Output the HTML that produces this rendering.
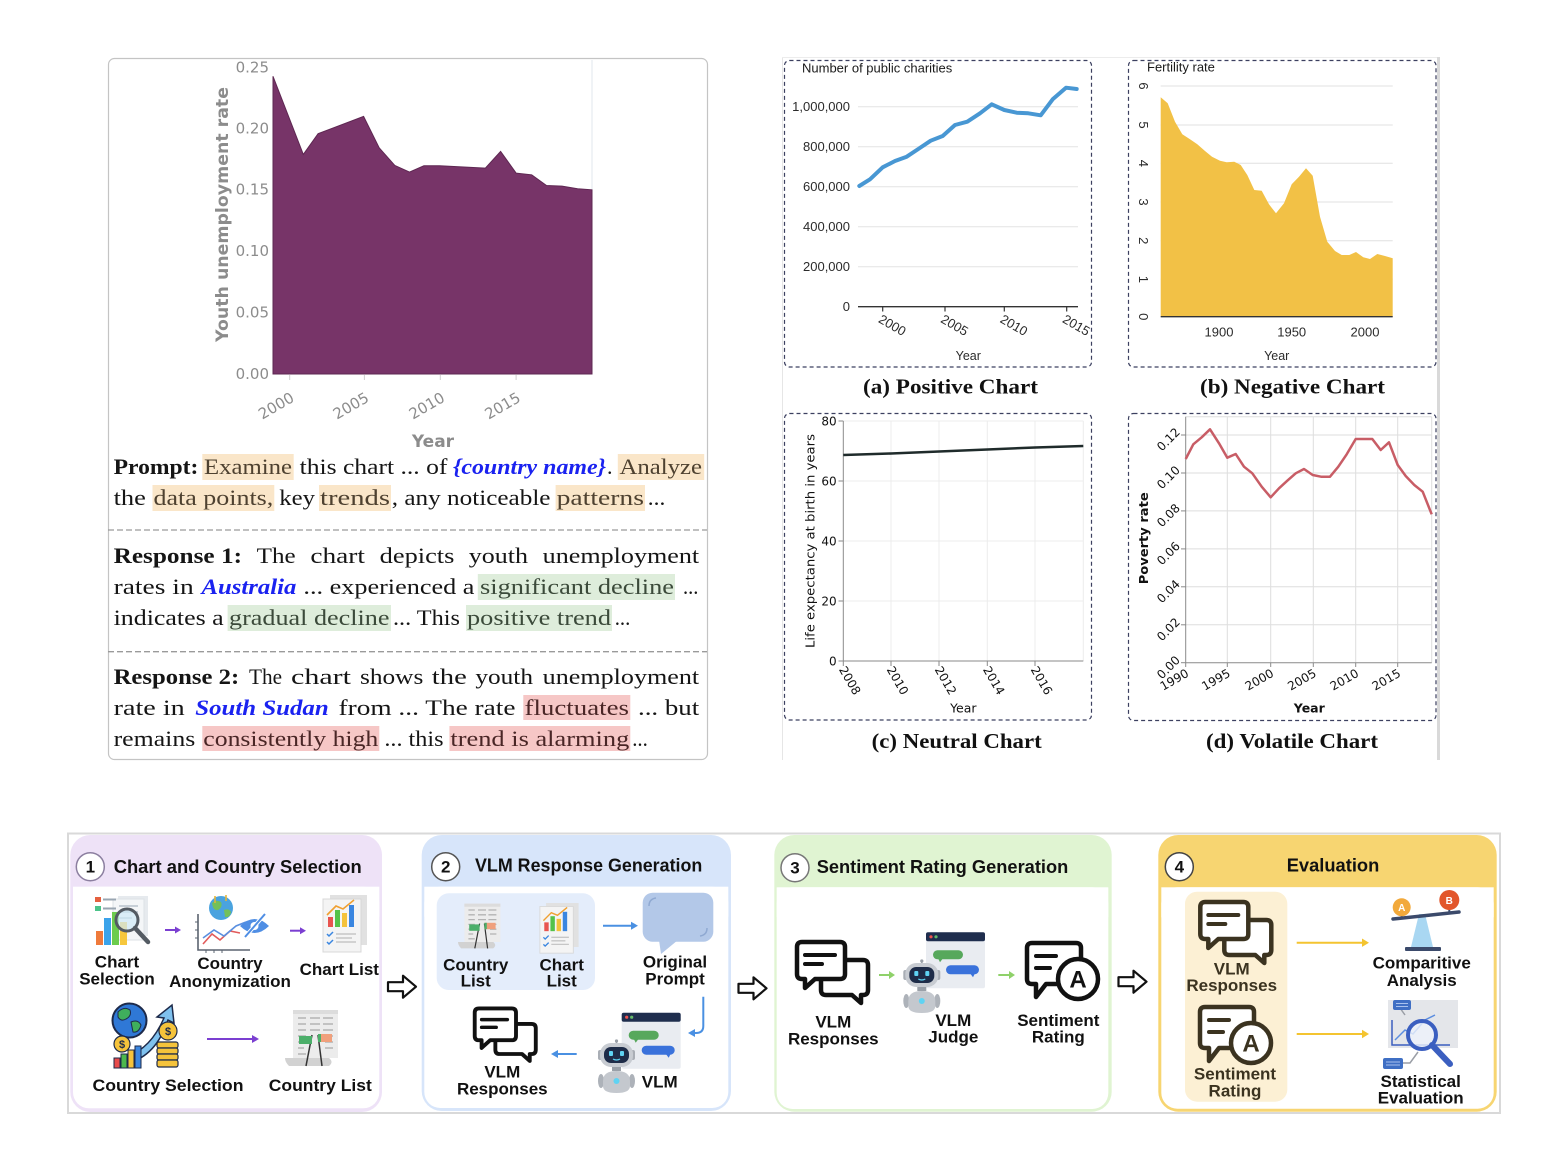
<!DOCTYPE html>
<html><head><meta charset="utf-8"><title>figure</title>
<style>html,body{margin:0;padding:0;background:#fff}svg{display:block}</style></head>
<body>
<svg xmlns="http://www.w3.org/2000/svg" width="1568" height="1176" viewBox="0 0 1568 1176">
<defs>
 <g id="bub">
  <path d="M31,20 H68 Q73,20 73,25 V50 Q73,55 68,55 H66 V63 L57,55 H31 Q26,55 26,50 V25 Q26,20 31,20 Z" fill="#fff" stroke="currentColor" stroke-width="4.5" stroke-linejoin="round"/>
  <path d="M7,2 H45 Q50,2 50,7 V34 Q50,39 45,39 H20 L10,48 V39 H7 Q2,39 2,34 V7 Q2,2 7,2 Z" fill="#fff" stroke="currentColor" stroke-width="4.5" stroke-linejoin="round"/>
  <path d="M10,15 H40 M10,24 H27" stroke="currentColor" stroke-width="4" stroke-linecap="round"/>
 </g>
 <g id="rat">
  <path d="M7,2 H51 Q56,2 56,7 V38 Q56,43 51,43 H21 L11,56 V43 H7 Q2,43 2,38 V7 Q2,2 7,2 Z" fill="#fff" stroke="currentColor" stroke-width="4.5" stroke-linejoin="round"/>
  <path d="M11,15 H31 M11,27 H25" stroke="currentColor" stroke-width="4" stroke-linecap="round"/>
  <circle cx="53" cy="38" r="20" fill="#fff" stroke="currentColor" stroke-width="4.5"/>
 </g>
 <g id="robot">
  <line x1="18.5" y1="0" x2="18.5" y2="4" stroke="#9aa0a8" stroke-width="1.5"/>
  <circle cx="18.5" cy="1" r="1.6" fill="#9aa0a8"/>
  <rect x="0" y="10" width="4" height="10" rx="2" fill="#a9aeb5"/>
  <rect x="33" y="10" width="4" height="10" rx="2" fill="#a9aeb5"/>
  <rect x="2" y="3" width="33" height="24" rx="11" fill="#c8ccd2"/>
  <rect x="6" y="7" width="25" height="16" rx="7" fill="#1e2c48"/>
  <rect x="11" y="11" width="4" height="5" rx="1" fill="#5fd3f3"/>
  <rect x="22" y="11" width="4" height="5" rx="1" fill="#5fd3f3"/>
  <path d="M15,19 q3.5,2 7,0" stroke="#5fd3f3" stroke-width="1.2" fill="none"/>
  <rect x="14" y="27" width="9" height="4" fill="#9aa0a8"/>
  <ellipse cx="3" cy="41" rx="3" ry="7" fill="#adb2b9"/>
  <ellipse cx="34" cy="41" rx="3" ry="7" fill="#adb2b9"/>
  <path d="M5,41 q0,-10 13.5,-10 q13.5,0 13.5,10 v5 q0,7 -13.5,7 q-13.5,0 -13.5,-7z" fill="#c4c8ce"/>
  <circle cx="18.5" cy="41" r="3" fill="#5fd3f3"/>
 </g>
 <g id="win">
  <rect x="0" y="0" width="59" height="56" rx="2" fill="#e9ecf1"/>
  <rect x="0" y="0" width="59" height="9" rx="2" fill="#1f2e4e"/>
  <circle cx="5" cy="4.5" r="1.6" fill="#ef5350"/>
  <circle cx="10" cy="4.5" r="1.6" fill="#66bb6a"/>
  <rect x="7" y="18" width="30" height="9" rx="4.5" fill="#57a85c"/>
  <path d="M12,26 l2,4 l3,-4z" fill="#57a85c"/>
  <rect x="20" y="33" width="33" height="9" rx="4.5" fill="#3a72db"/>
  <path d="M44,41 l3,4 l2,-4z" fill="#3a72db"/>
 </g>
 <g id="clist">
  <rect x="8" y="2" width="45" height="48" fill="#ececec"/>
  <rect x="8" y="2" width="45" height="4" fill="#dcdcdc"/>
  <path d="M13,10 H21 M25,10 H35 M38,10 H48 M13,16 H21 M25,16 H35 M38,16 H48 M13,22 H21 M25,22 H35 M38,22 H48 M13,28 H21 M38,28 H48 M13,34 H19 M40,34 H48 M13,40 H19 M40,40 H48 M13,46 H21" stroke="#b3b3b3" stroke-width="1.6"/>
  <path d="M0,50 H44 q5,4 0,8 H4 q-4,-4 -4,-8z" fill="#d2d2d2"/>
  <line x1="27" y1="27" x2="21" y2="58" stroke="#333" stroke-width="1.5"/>
  <line x1="33" y1="27" x2="37" y2="58" stroke="#333" stroke-width="1.5"/>
  <rect x="14" y="28" width="13" height="8" fill="#4caf6a"/>
  <rect x="33" y="26" width="14" height="8" fill="#f0a07c"/>
  <rect x="33" y="26" width="3" height="8" fill="#4caf6a"/>
 </g>
 <g id="chlist">
  <rect x="8" y="0" width="37" height="50" fill="#e1e1e1"/>
  <rect x="1" y="4" width="38" height="53" fill="#f4f4f4" stroke="#d8d8d8"/>
  <rect x="6" y="22" width="5" height="10" fill="#e8544f"/>
  <rect x="13" y="15" width="5" height="17" fill="#55c24a"/>
  <rect x="20" y="18" width="5" height="14" fill="#f4c23b"/>
  <rect x="27" y="10" width="5" height="22" fill="#3a86e0"/>
  <polyline points="5,20 14,11 21,14 32,5" fill="none" stroke="#f0a030" stroke-width="1.6"/>
  <path d="M5,39 l2,2 l4,-4 M5,47 l2,2 l4,-4" stroke="#3a86e0" stroke-width="1.5" fill="none"/>
  <path d="M14,39 H34 M14,47 H34 M14,43 H30" stroke="#c6c6c6" stroke-width="1.5"/>
 </g>
</defs>

<rect width="1568" height="1176" fill="#fff"/>

<!-- ============ TOP LEFT PANEL ============ -->
<rect x="108.5" y="58.5" width="599" height="701" rx="6" fill="none" stroke="#c4c4c4" stroke-width="1.2"/>
<line x1="592" y1="60" x2="592" y2="374" stroke="#e2e7ee" stroke-width="1"/>
<path d="M273,374 L273,76.3 L303.3,154.4 L318.1,133.7 L363.6,116.4 L379.2,147.8 L394.8,165.4 L409.5,172.1 L423.9,165.8 L439.5,165.8 L485.4,168.1 L500.6,151.4 L516.1,173.1 L531.7,174.8 L546.5,185.5 L562,186.1 L577.6,188.8 L592,189.8 L592,374 Z" fill="#773468" stroke="#5e2752" stroke-width="1"/>
<g stroke="#cfcfcf" stroke-width="1"><line x1="289.7" y1="375" x2="289.7" y2="380"/><line x1="364.4" y1="375" x2="364.4" y2="380"/><line x1="440.3" y1="375" x2="440.3" y2="380"/><line x1="516.1" y1="375" x2="516.1" y2="380"/></g>
<g font-family="DejaVu Sans, sans-serif" font-size="15" fill="#8c8c8c" text-anchor="end">
 <text x="269" y="72.5">0.25</text>
 <text x="269" y="133.5">0.20</text>
 <text x="269" y="194.5">0.15</text>
 <text x="269" y="256">0.10</text>
 <text x="269" y="317.5">0.05</text>
 <text x="269" y="379">0.00</text>
 <g dominant-baseline="hanging">
  <text transform="translate(289.7,391) rotate(-30)">2000</text>
  <text transform="translate(364.4,391) rotate(-30)">2005</text>
  <text transform="translate(440.3,391) rotate(-30)">2010</text>
  <text transform="translate(516.1,391) rotate(-30)">2015</text>
 </g>
</g>
<text transform="translate(228,214.5) rotate(-90)" font-family="DejaVu Sans, sans-serif" font-weight="bold" font-size="17" fill="#8c8c8c" text-anchor="middle" textLength="255" lengthAdjust="spacingAndGlyphs">Youth unemployment rate</text>
<text x="433" y="447" font-family="DejaVu Sans, sans-serif" font-weight="bold" font-size="17" fill="#8c8c8c" text-anchor="middle">Year</text>

<!-- text block highlights -->
<g>
 <rect x="202.3" y="454" width="91.4" height="26" fill="#fae6c9"/>
 <rect x="617.8" y="454" width="86.4" height="26" fill="#fae6c9"/>
 <rect x="152.5" y="485" width="121.8" height="26" fill="#fae6c9"/>
 <rect x="319" y="485" width="72" height="26" fill="#fae6c9"/>
 <rect x="555.6" y="485" width="89.4" height="26" fill="#fae6c9"/>
 <rect x="477.8" y="574" width="197.2" height="26" fill="#deeddb"/>
 <rect x="227.6" y="605" width="163.4" height="26" fill="#deeddb"/>
 <rect x="466" y="605" width="146" height="26" fill="#deeddb"/>
 <rect x="523.3" y="695" width="107" height="25" fill="#f6c7c6"/>
 <rect x="202.3" y="726" width="177" height="25" fill="#f6c7c6"/>
 <rect x="449.4" y="726" width="180.9" height="25" fill="#f6c7c6"/>
</g>
<line x1="108" y1="530" x2="707" y2="530" stroke="#9a9a9a" stroke-width="1.3" stroke-dasharray="6 3"/>
<line x1="108" y1="651.7" x2="707" y2="651.7" stroke="#9a9a9a" stroke-width="1.3" stroke-dasharray="6 3"/>
<g font-family="Liberation Serif, serif" font-size="22" fill="#151515">
 <text x="113.6" y="474" font-weight="bold" textLength="84.8" lengthAdjust="spacingAndGlyphs">Prompt:</text>
 <text x="204" y="474" fill="#4e4130" textLength="88" lengthAdjust="spacingAndGlyphs">Examine</text>
 <text x="299.6" y="474" textLength="147.8" lengthAdjust="spacingAndGlyphs">this chart ... of</text>
 <text x="453" y="474" fill="#1a22f0" font-weight="bold" font-style="italic" textLength="153" lengthAdjust="spacingAndGlyphs">{country name}</text>
 <text x="607" y="474">.</text>
 <text x="619.5" y="474" fill="#4e4130" textLength="82.5" lengthAdjust="spacingAndGlyphs">Analyze</text>

 <text x="113.6" y="505" textLength="32.3" lengthAdjust="spacingAndGlyphs">the</text>
 <text x="153.5" y="505" fill="#4e4130" textLength="119.8" lengthAdjust="spacingAndGlyphs">data points,</text>
 <text x="279.3" y="505" textLength="35.7" lengthAdjust="spacingAndGlyphs">key</text>
 <text x="320" y="505" fill="#4e4130" textLength="70" lengthAdjust="spacingAndGlyphs">trends</text>
 <text x="391.8" y="505" textLength="158.7" lengthAdjust="spacingAndGlyphs">, any noticeable</text>
 <text x="556.6" y="505" fill="#4e4130" textLength="87.4" lengthAdjust="spacingAndGlyphs">patterns</text>
 <text x="647.8" y="505" textLength="17.5" lengthAdjust="spacingAndGlyphs">...</text>

 <text x="113.6" y="563" font-weight="bold" textLength="128.4" lengthAdjust="spacingAndGlyphs">Response 1:</text>
 <text x="256.7" y="563" textLength="39" lengthAdjust="spacingAndGlyphs">The</text>
 <text x="310.4" y="563" textLength="54.6" lengthAdjust="spacingAndGlyphs">chart</text>
 <text x="379.7" y="563" textLength="74.7" lengthAdjust="spacingAndGlyphs">depicts</text>
 <text x="468.8" y="563" textLength="59.2" lengthAdjust="spacingAndGlyphs">youth</text>
 <text x="542.7" y="563" textLength="156.5" lengthAdjust="spacingAndGlyphs">unemployment</text>

 <text x="113.6" y="594" textLength="80.1" lengthAdjust="spacingAndGlyphs">rates in</text>
 <text x="201.5" y="594" fill="#1a22f0" font-weight="bold" font-style="italic" textLength="94.9" lengthAdjust="spacingAndGlyphs">Australia</text>
 <text x="303.4" y="594" textLength="171" lengthAdjust="spacingAndGlyphs">... experienced a</text>
 <text x="480" y="594" fill="#3b4a3a" textLength="194" lengthAdjust="spacingAndGlyphs">significant decline</text>
 <text x="683" y="594" textLength="15.4" lengthAdjust="spacingAndGlyphs">...</text>

 <text x="113.6" y="625" textLength="110.1" lengthAdjust="spacingAndGlyphs">indicates a</text>
 <text x="229" y="625" fill="#3b4a3a" textLength="160.5" lengthAdjust="spacingAndGlyphs">gradual decline</text>
 <text x="393" y="625" textLength="66.9" lengthAdjust="spacingAndGlyphs">... This</text>
 <text x="467" y="625" fill="#3b4a3a" textLength="144" lengthAdjust="spacingAndGlyphs">positive trend</text>
 <text x="614.7" y="625" textLength="15.6" lengthAdjust="spacingAndGlyphs">...</text>

 <text x="113.6" y="684" font-weight="bold" textLength="125.6" lengthAdjust="spacingAndGlyphs">Response 2:</text>
 <text x="249" y="684" textLength="33" lengthAdjust="spacingAndGlyphs">The</text>
 <text x="291" y="684" textLength="60" lengthAdjust="spacingAndGlyphs">chart</text>
 <text x="360" y="684" textLength="63.3" lengthAdjust="spacingAndGlyphs">shows</text>
 <text x="431.8" y="684" textLength="35" lengthAdjust="spacingAndGlyphs">the</text>
 <text x="475.4" y="684" textLength="57.6" lengthAdjust="spacingAndGlyphs">youth</text>
 <text x="542.7" y="684" textLength="156.5" lengthAdjust="spacingAndGlyphs">unemployment</text>

 <text x="113.6" y="715" textLength="71.2" lengthAdjust="spacingAndGlyphs">rate in</text>
 <text x="195.3" y="715" fill="#1a22f0" font-weight="bold" font-style="italic" textLength="133.4" lengthAdjust="spacingAndGlyphs">South Sudan</text>
 <text x="338.5" y="715" textLength="177" lengthAdjust="spacingAndGlyphs">from ... The rate</text>
 <text x="524.5" y="715" fill="#4a2626" textLength="104.5" lengthAdjust="spacingAndGlyphs">fluctuates</text>
 <text x="638" y="715" textLength="61.2" lengthAdjust="spacingAndGlyphs">... but</text>

 <text x="113.6" y="746" textLength="81.7" lengthAdjust="spacingAndGlyphs">remains</text>
 <text x="203.3" y="746" fill="#4a2626" textLength="175" lengthAdjust="spacingAndGlyphs">consistently high</text>
 <text x="384.4" y="746" textLength="59.1" lengthAdjust="spacingAndGlyphs">... this</text>
 <text x="450.4" y="746" fill="#4a2626" textLength="178.9" lengthAdjust="spacingAndGlyphs">trend is alarming</text>
 <text x="632.2" y="746" textLength="15.6" lengthAdjust="spacingAndGlyphs">...</text>
</g>

<!-- ============ TOP RIGHT PANEL FRAME ============ -->
<line x1="782.5" y1="57" x2="782.5" y2="760" stroke="#e6e6e6" stroke-width="1"/>
<line x1="782" y1="57.5" x2="1438" y2="57.5" stroke="#ececec" stroke-width="1"/>
<line x1="1438.5" y1="57" x2="1438.5" y2="760" stroke="#d9d9d9" stroke-width="3"/>

<!-- Chart (a) -->
<rect x="784.5" y="60.5" width="307" height="306.5" rx="5" fill="none" stroke="#3c4060" stroke-width="1.2" stroke-dasharray="4 3"/>
<g stroke="#e3e3e3" stroke-width="1"><line x1="858" y1="106.7" x2="1078" y2="106.7"/><line x1="858" y1="146.7" x2="1078" y2="146.7"/><line x1="858" y1="186.7" x2="1078" y2="186.7"/><line x1="858" y1="226.7" x2="1078" y2="226.7"/><line x1="858" y1="266.7" x2="1078" y2="266.7"/></g>
<line x1="858" y1="306.7" x2="1078" y2="306.7" stroke="#333" stroke-width="1.3"/>
<g stroke="#333" stroke-width="1.2"><line x1="882.7" y1="306.7" x2="882.7" y2="311.5"/><line x1="945" y1="306.7" x2="945" y2="311.5"/><line x1="1004.3" y1="306.7" x2="1004.3" y2="311.5"/><line x1="1066.7" y1="306.7" x2="1066.7" y2="311.5"/></g>
<polyline points="859.3,186 870,179.3 882.7,167.3 895,161 906.7,156.7 918.3,149 930.7,140.7 942.7,136 955,125 967.3,121.7 980,113.3 991.7,104.3 1004.3,110 1016.7,112.7 1028.3,113.3 1040.7,115.3 1052.7,99.3 1066,87.7 1076.7,89" fill="none" stroke="#4897d3" stroke-width="4" stroke-linejoin="round" stroke-linecap="round"/>
<g font-family="Liberation Sans, sans-serif" font-size="13" fill="#2b2b2b">
 <text x="802" y="72.5" fill="#1a1a1a">Number of public charities</text>
 <g text-anchor="end">
  <text x="850" y="111">1,000,000</text>
  <text x="850" y="151">800,000</text>
  <text x="850" y="191">600,000</text>
  <text x="850" y="231">400,000</text>
  <text x="850" y="271">200,000</text>
  <text x="850" y="311">0</text>
 </g>
 <g dominant-baseline="hanging">
  <text transform="translate(882.4,313.5) rotate(30)">2000</text>
  <text transform="translate(944.7,313.5) rotate(30)">2005</text>
  <text transform="translate(1004,313.5) rotate(30)">2010</text>
  <text transform="translate(1066.4,313.5) rotate(30)">2015</text>
 </g>
 <text x="968.3" y="360" text-anchor="middle" font-size="12.5">Year</text>
</g>
<text x="950.5" y="393.5" font-family="Liberation Serif, serif" font-weight="bold" font-size="21" fill="#111" text-anchor="middle" textLength="175" lengthAdjust="spacingAndGlyphs">(a) Positive Chart</text>

<!-- Chart (b) -->
<rect x="1128.5" y="60.5" width="307.5" height="306.5" rx="5" fill="none" stroke="#3c4060" stroke-width="1.2" stroke-dasharray="4 3"/>
<g stroke="#e0e0e0" stroke-width="1"><line x1="1160.7" y1="86" x2="1392.7" y2="86"/><line x1="1160.7" y1="125" x2="1392.7" y2="125"/><line x1="1160.7" y1="163.3" x2="1392.7" y2="163.3"/><line x1="1160.7" y1="202" x2="1392.7" y2="202"/><line x1="1160.7" y1="240.7" x2="1392.7" y2="240.7"/><line x1="1160.7" y1="279.3" x2="1392.7" y2="279.3"/></g>
<path d="M1160.7,316.7 L1160.7,97.3 L1167.7,103.3 L1175,121.7 L1182.3,134.3 L1190,139.3 L1197.3,144.3 L1205,151 L1212,156.7 L1220,160.7 L1226.7,162.3 L1234.3,161.7 L1240.7,165 L1247.3,175 L1254.3,190 L1261.7,190.7 L1269,204.3 L1276,213.3 L1284,203.3 L1291.7,184.3 L1299,176.7 L1306,168.3 L1312.7,175.7 L1320,216.7 L1327.3,241.7 L1335,251 L1341.7,255 L1349.3,255 L1356,252 L1363.3,257.3 L1370,259 L1377.3,254 L1385,256 L1392.7,258.3 L1392.7,316.7 Z" fill="#f2c146"/>
<line x1="1160.7" y1="316.7" x2="1392.7" y2="316.7" stroke="#333" stroke-width="1.3"/>
<g font-family="Liberation Sans, sans-serif" font-size="13" fill="#2b2b2b">
 <text x="1147" y="71.5" fill="#1a1a1a">Fertility rate</text>
 <g text-anchor="middle" dominant-baseline="central">
  <text transform="translate(1143.7,86) rotate(90)">6</text>
  <text transform="translate(1143.7,125) rotate(90)">5</text>
  <text transform="translate(1143.7,163.3) rotate(90)">4</text>
  <text transform="translate(1143.7,202) rotate(90)">3</text>
  <text transform="translate(1143.7,240.7) rotate(90)">2</text>
  <text transform="translate(1143.7,279.3) rotate(90)">1</text>
  <text transform="translate(1143.7,316.7) rotate(90)">0</text>
 </g>
 <g text-anchor="middle">
  <text x="1219" y="336.5">1900</text>
  <text x="1291.7" y="336.5">1950</text>
  <text x="1365" y="336.5">2000</text>
  <text x="1276.7" y="360" font-size="12.5">Year</text>
 </g>
</g>
<text x="1292.5" y="393.5" font-family="Liberation Serif, serif" font-weight="bold" font-size="21" fill="#111" text-anchor="middle" textLength="185" lengthAdjust="spacingAndGlyphs">(b) Negative Chart</text>

<!-- Chart (c) -->
<rect x="784.5" y="413.5" width="307" height="306.5" rx="5" fill="none" stroke="#3c4060" stroke-width="1.2" stroke-dasharray="4 3"/>
<g stroke="#ececec" stroke-width="1">
 <line x1="843.3" y1="421" x2="1083.3" y2="421"/><line x1="843.3" y1="481" x2="1083.3" y2="481"/><line x1="843.3" y1="541" x2="1083.3" y2="541"/><line x1="843.3" y1="601" x2="1083.3" y2="601"/>
 <line x1="891" y1="421" x2="891" y2="661"/><line x1="939" y1="421" x2="939" y2="661"/><line x1="987.3" y1="421" x2="987.3" y2="661"/><line x1="1035" y1="421" x2="1035" y2="661"/><line x1="1083.3" y1="421" x2="1083.3" y2="661"/>
</g>
<g stroke="#8a8a8a" stroke-width="1">
 <line x1="843.3" y1="421" x2="843.3" y2="661"/><line x1="843.3" y1="661" x2="1083.3" y2="661"/>
 <line x1="838.5" y1="421" x2="843.3" y2="421"/><line x1="838.5" y1="481" x2="843.3" y2="481"/><line x1="838.5" y1="541" x2="843.3" y2="541"/><line x1="838.5" y1="601" x2="843.3" y2="601"/><line x1="838.5" y1="661" x2="843.3" y2="661"/>
 <line x1="843.3" y1="661" x2="843.3" y2="666"/><line x1="891" y1="661" x2="891" y2="666"/><line x1="939" y1="661" x2="939" y2="666"/><line x1="987.3" y1="661" x2="987.3" y2="666"/><line x1="1035" y1="661" x2="1035" y2="666"/>
</g>
<polyline points="843.3,455 891,453.5 939,451.5 987.3,449.5 1035,447.5 1083.3,446" fill="none" stroke="#1f2b2b" stroke-width="2.5"/>
<g font-family="DejaVu Sans, sans-serif" font-size="12" fill="#111">
 <g text-anchor="end">
  <text x="836.7" y="425.5">80</text>
  <text x="836.7" y="485.5">60</text>
  <text x="836.7" y="545.5">40</text>
  <text x="836.7" y="605.5">20</text>
  <text x="836.7" y="665.5">0</text>
 </g>
 <g dominant-baseline="hanging">
  <text transform="translate(846.3,665) rotate(60)">2008</text>
  <text transform="translate(894,665) rotate(60)">2010</text>
  <text transform="translate(942,665) rotate(60)">2012</text>
  <text transform="translate(990.3,665) rotate(60)">2014</text>
  <text transform="translate(1038,665) rotate(60)">2016</text>
 </g>
 <text transform="translate(814.5,541) rotate(-90)" text-anchor="middle" textLength="214" lengthAdjust="spacingAndGlyphs">Life expectancy at birth in years</text>
 <text x="963.3" y="712.5" text-anchor="middle" font-size="12.5">Year</text>
</g>
<text x="956.7" y="748" font-family="Liberation Serif, serif" font-weight="bold" font-size="21" fill="#111" text-anchor="middle" textLength="170" lengthAdjust="spacingAndGlyphs">(c) Neutral Chart</text>

<!-- Chart (d) -->
<rect x="1128.5" y="413.5" width="307.5" height="307" rx="5" fill="none" stroke="#3c4060" stroke-width="1.2" stroke-dasharray="4 3"/>
<g stroke="#dedede" stroke-width="1">
 <line x1="1185.7" y1="416.7" x2="1431.7" y2="416.7"/><line x1="1185.7" y1="435" x2="1431.7" y2="435"/><line x1="1185.7" y1="473" x2="1431.7" y2="473"/><line x1="1185.7" y1="510.9" x2="1431.7" y2="510.9"/><line x1="1185.7" y1="548.9" x2="1431.7" y2="548.9"/><line x1="1185.7" y1="586.8" x2="1431.7" y2="586.8"/><line x1="1185.7" y1="624.8" x2="1431.7" y2="624.8"/>
 <line x1="1227.3" y1="416.7" x2="1227.3" y2="662.7"/><line x1="1270.7" y1="416.7" x2="1270.7" y2="662.7"/><line x1="1313.3" y1="416.7" x2="1313.3" y2="662.7"/><line x1="1355.7" y1="416.7" x2="1355.7" y2="662.7"/><line x1="1397.7" y1="416.7" x2="1397.7" y2="662.7"/><line x1="1431.7" y1="416.7" x2="1431.7" y2="662.7"/>
</g>
<g stroke="#8a8a8a" stroke-width="1">
 <line x1="1185.7" y1="416.7" x2="1185.7" y2="662.7"/><line x1="1185.7" y1="662.7" x2="1431.7" y2="662.7"/>
 <line x1="1181" y1="435" x2="1185.7" y2="435"/><line x1="1181" y1="473" x2="1185.7" y2="473"/><line x1="1181" y1="510.9" x2="1185.7" y2="510.9"/><line x1="1181" y1="548.9" x2="1185.7" y2="548.9"/><line x1="1181" y1="586.8" x2="1185.7" y2="586.8"/><line x1="1181" y1="624.8" x2="1185.7" y2="624.8"/><line x1="1181" y1="662.7" x2="1185.7" y2="662.7"/>
 <line x1="1185.7" y1="662.7" x2="1185.7" y2="667"/><line x1="1227.3" y1="662.7" x2="1227.3" y2="667"/><line x1="1270.7" y1="662.7" x2="1270.7" y2="667"/><line x1="1313.3" y1="662.7" x2="1313.3" y2="667"/><line x1="1355.7" y1="662.7" x2="1355.7" y2="667"/><line x1="1397.7" y1="662.7" x2="1397.7" y2="667"/>
</g>
<polyline points="1185.7,459 1193.3,444.3 1201.7,437.3 1210,429.3 1219,443.3 1227.3,457.7 1235.7,454 1244,466.7 1252.3,473.3 1261.7,486.7 1270.7,497.3 1279,488.3 1287.3,480.7 1295.7,473.3 1304,469 1312.7,475 1321,476.7 1330,476.7 1338.3,466.7 1346.7,454.3 1355.7,439 1364,439 1372.3,439 1380.7,450 1389,442.3 1397.7,465 1405.7,476 1414.3,485 1422.7,491.7 1431.7,514.3" fill="none" stroke="#c85d66" stroke-width="2.5" stroke-linejoin="round"/>
<g font-family="DejaVu Sans, sans-serif" font-size="12" fill="#111">
 <g text-anchor="end" dominant-baseline="central">
  <text transform="translate(1178,430) rotate(-45)">0.12</text>
  <text transform="translate(1178,468) rotate(-45)">0.10</text>
  <text transform="translate(1178,506) rotate(-45)">0.08</text>
  <text transform="translate(1178,544) rotate(-45)">0.06</text>
  <text transform="translate(1178,582) rotate(-45)">0.04</text>
  <text transform="translate(1178,620) rotate(-45)">0.02</text>
  <text transform="translate(1178,658) rotate(-45)">0.00</text>
 </g>
 <g text-anchor="end" dominant-baseline="hanging">
  <text transform="translate(1185.2,668) rotate(-30)">1990</text>
  <text transform="translate(1226.8,668) rotate(-30)">1995</text>
  <text transform="translate(1270.2,668) rotate(-30)">2000</text>
  <text transform="translate(1312.8,668) rotate(-30)">2005</text>
  <text transform="translate(1355.2,668) rotate(-30)">2010</text>
  <text transform="translate(1397.2,668) rotate(-30)">2015</text>
 </g>
 <text transform="translate(1147.8,538.3) rotate(-90)" text-anchor="middle" font-weight="bold" font-size="12.5" textLength="92" lengthAdjust="spacingAndGlyphs">Poverty rate</text>
 <text x="1309.3" y="712.5" text-anchor="middle" font-weight="bold" font-size="12.5">Year</text>
</g>
<text x="1292" y="748" font-family="Liberation Serif, serif" font-weight="bold" font-size="21" fill="#111" text-anchor="middle" textLength="172" lengthAdjust="spacingAndGlyphs">(d) Volatile Chart</text>

<!-- ============ BOTTOM FLOWCHART ============ -->
<rect x="68" y="833.5" width="1432" height="279.5" fill="none" stroke="#d9d9d9" stroke-width="2"/>

<!-- Panel 1 -->
<rect x="70.3" y="835" width="311.7" height="277" rx="20" fill="#eee2f7"/>
<rect x="73" y="886.7" width="306.3" height="221.6" rx="16" fill="#fff"/>
<rect x="73" y="886.7" width="306.3" height="30" fill="#fff"/>
<circle cx="90.3" cy="866.7" r="14" fill="#fff" stroke="#8c7fa0" stroke-width="1.5"/>
<rect x="118" y="896" width="30" height="40" fill="#e6eaee"/>
<rect x="113" y="899" width="31" height="41" fill="#f4f6f8" stroke="#dde2e6"/>
<path d="M119,906 H138 M119,912 H138 M119,918 H132" stroke="#b8c2cc" stroke-width="1.5"/>
<rect x="95" y="897" width="6" height="5" fill="#e5603f"/>
<rect x="95" y="906" width="6" height="5" fill="#4cc38a"/>
<path d="M103,899.5 H116 M103,908.5 H116" stroke="#9aa6b2" stroke-width="2"/>
<rect x="96" y="931" width="7" height="14" fill="#ef7a3b"/>
<rect x="104" y="918" width="7" height="27" fill="#3ba3ea"/>
<rect x="112" y="912" width="7" height="33" fill="#6ccc4d"/>
<rect x="120" y="922" width="7" height="23" fill="#f6c73d"/>
<circle cx="127" cy="920" r="11" fill="#cfe9f6" fill-opacity="0.7" stroke="#545b63" stroke-width="3"/>
<line x1="135" y1="928" x2="148" y2="942" stroke="#545b63" stroke-width="4.5" stroke-linecap="round"/>
<circle cx="221" cy="908" r="12" fill="#4aa3df"/>
<path d="M212,903 q4,-4 9,-1 q2,5 -3,8 q-5,1 -6,-7z" fill="#73c05a"/>
<path d="M224,910 q5,-2 7,2 q-1,6 -6,5z" fill="#73c05a"/>
<path d="M215,896 V903 M226,895 V901" stroke="#e5b53a" stroke-width="1.6"/>
<path d="M198,914 V950 H250" fill="none" stroke="#5b6470" stroke-width="1.6"/>
<path d="M195,922 H198 M195,930 H198 M195,938 H198 M206,950 V953 M214,950 V953 M222,950 V953" stroke="#5b6470" stroke-width="1"/>
<polyline points="203,944 212,934 220,940 230,931 240,933" fill="none" stroke="#e25b5b" stroke-width="1.6"/>
<polyline points="203,938 214,930 224,936 236,926 246,922" fill="none" stroke="#5a8fe0" stroke-width="1.6"/>
<path d="M240,926 q14.5,-14 29,0 q-14.5,14 -29,0z" fill="#4f8ee4"/>
<circle cx="254.5" cy="926" r="4" fill="#fff"/>
<line x1="245" y1="937" x2="265" y2="914" stroke="#fff" stroke-width="4"/>
<line x1="245" y1="937" x2="265" y2="914" stroke="#4f8ee4" stroke-width="2"/>
<use href="#chlist" transform="translate(322,895)"/>
<path d="M125,1057 Q150,1050 164,1018 L157,1017 L172,1005 L174,1023 L168,1020 Q156,1056 128,1063z" fill="#7fc1ee" stroke="#1d2a4a" stroke-width="1.5"/>
<circle cx="129.5" cy="1020.5" r="17" fill="#2f78d6" stroke="#1d2a4a" stroke-width="2"/>
<path d="M118,1012 q6,-6 12,-2 q2,6 -4,9 q-5,3 -8,-2z" fill="#3fae5c" stroke="#1d2a4a" stroke-width="1"/>
<path d="M131,1022 q7,-3 10,3 q-2,8 -8,7z" fill="#3fae5c" stroke="#1d2a4a" stroke-width="1"/>
<rect x="114" y="1058" width="6" height="10" fill="#e84b4b" stroke="#1d2a4a" stroke-width="1"/>
<rect x="121" y="1054" width="6" height="14" fill="#4cb84c" stroke="#1d2a4a" stroke-width="1"/>
<rect x="128" y="1050" width="6" height="18" fill="#f5c33b" stroke="#1d2a4a" stroke-width="1"/>
<rect x="135" y="1046" width="6" height="22" fill="#3a86e0" stroke="#1d2a4a" stroke-width="1"/>
<g fill="#f5c33b" stroke="#1d2a4a" stroke-width="1.2">
 <rect x="157" y="1042" width="21" height="6" rx="2"/><rect x="157" y="1048" width="21" height="6" rx="2"/><rect x="157" y="1054" width="21" height="6" rx="2"/><rect x="157" y="1060" width="21" height="7" rx="2"/>
 <circle cx="122" cy="1044" r="8"/><circle cx="168" cy="1031" r="9"/>
</g>
<g font-family="Liberation Sans, sans-serif" font-weight="bold" font-size="11" fill="#1d2a4a" text-anchor="middle"><text x="122" y="1048">$</text><text x="168" y="1035">$</text></g>
<use href="#clist" transform="translate(285,1008)"/>
<g stroke="#7b3fd1" stroke-width="2"><line x1="165" y1="930" x2="176" y2="930"/><line x1="290" y1="930.7" x2="301" y2="930.7"/><line x1="207" y1="1039" x2="253" y2="1039"/></g>
<g fill="#7b3fd1"><polygon points="175,926.5 181,930 175,933.5"/><polygon points="300,927.2 306,930.7 300,934.2"/><polygon points="252,1035 259,1039 252,1043"/></g>

<!-- Panel 2 -->
<rect x="421.7" y="835" width="309.3" height="276" rx="20" fill="#d7e5fa"/>
<rect x="424.3" y="886.7" width="304" height="221.3" rx="16" fill="#fff"/>
<rect x="424.3" y="886.7" width="304" height="30" fill="#fff"/>
<circle cx="445.7" cy="866.7" r="14" fill="#fff" stroke="#555" stroke-width="1.5"/>
<rect x="436.7" y="893.3" width="158.3" height="96.7" rx="12" fill="#e4edfb"/>
<use href="#clist" transform="translate(458,902) scale(0.8)"/>
<use href="#chlist" transform="translate(539,903) scale(0.88)"/>
<rect x="642.7" y="892.7" width="70.6" height="49" rx="10" fill="#b3c8e8"/>
<path d="M659,940 L661,954 L678,940z" fill="#b3c8e8"/>
<path d="M649,906 q0,-7 7,-8 M707,928 q0,7 -7,8" stroke="#8fa9d2" stroke-width="1.5" fill="none"/>
<g stroke="#4a90e2" stroke-width="2" fill="none">
 <line x1="603" y1="925.7" x2="632" y2="925.7"/>
 <path d="M703.3,996.7 V1026 Q703.3,1033 696,1033 H694"/>
 <line x1="576.7" y1="1054" x2="557" y2="1054"/>
</g>
<g fill="#4a90e2"><polygon points="631,921.7 638,925.7 631,929.7"/><polygon points="695,1029 688,1033 695,1037"/><polygon points="558,1050 551,1054 558,1058"/></g>
<use href="#win" transform="translate(621.7,1012.7)"/>
<use href="#robot" transform="translate(598,1040)"/>
<use href="#bub" transform="translate(473,1006.7) scale(0.86)" color="#111"/>

<!-- Panel 3 -->
<rect x="774.3" y="835" width="337.4" height="276.7" rx="20" fill="#e0f4d2"/>
<rect x="776.7" y="887.3" width="331.6" height="221.7" rx="16" fill="#fff"/>
<rect x="776.7" y="887.3" width="331.6" height="30" fill="#fff"/>
<circle cx="795" cy="867.7" r="14" fill="#fff" stroke="#777" stroke-width="1.5"/>
<use href="#bub" transform="translate(795,940)" color="#111"/>
<use href="#win" transform="translate(926,932.3)"/>
<use href="#robot" transform="translate(903.3,960)"/>
<use href="#rat" transform="translate(1025,941)" color="#111"/>
<text x="1078" y="987.5" font-family="Liberation Sans, sans-serif" font-weight="bold" font-size="24" fill="#111" text-anchor="middle">A</text>
<g stroke="#8fd16a" stroke-width="2"><line x1="879" y1="975" x2="890" y2="975"/><line x1="998.3" y1="975" x2="1010" y2="975"/></g>
<g fill="#8fd16a"><polygon points="889,971 895,975 889,979"/><polygon points="1009,971 1015,975 1009,979"/></g>

<!-- Panel 4 -->
<rect x="1158.3" y="835" width="338.4" height="276.7" rx="20" fill="#f7d571"/>
<rect x="1161.3" y="887.3" width="332.4" height="221.4" rx="16" fill="#fff"/>
<rect x="1161.3" y="887.3" width="332.4" height="30" fill="#fff"/>
<circle cx="1179.3" cy="866.7" r="14" fill="#fff" stroke="#444" stroke-width="1.5"/>
<rect x="1185" y="891.7" width="102.3" height="210" rx="12" fill="#fcf0d4"/>
<use href="#bub" transform="translate(1198.3,900)" color="#3b3320"/>
<use href="#rat" transform="translate(1198,1005)" color="#3b3320"/>
<text x="1251" y="1051.5" font-family="Liberation Sans, sans-serif" font-weight="bold" font-size="24" fill="#3b3320" text-anchor="middle">A</text>
<g stroke="#f4c430" stroke-width="2"><line x1="1296.7" y1="942.7" x2="1363" y2="942.7"/><line x1="1296.7" y1="1034" x2="1363" y2="1034"/></g>
<g fill="#f4c430"><polygon points="1362,938.5 1369,942.7 1362,946.9"/><polygon points="1362,1029.8 1369,1034 1362,1038.2"/></g>
<polygon points="1419,914 1425,914 1433,947 1411,947" fill="#a9d7f2"/>
<rect x="1405" y="947" width="36" height="4" rx="1" fill="#3b4a6b"/>
<line x1="1393" y1="919" x2="1459" y2="912" stroke="#3b4a6b" stroke-width="3.5" stroke-linecap="round"/>
<line x1="1401.7" y1="915" x2="1401.7" y2="918" stroke="#3b4a6b" stroke-width="2"/>
<line x1="1449.3" y1="909" x2="1449.3" y2="912" stroke="#3b4a6b" stroke-width="2"/>
<circle cx="1401.7" cy="907.3" r="9" fill="#f2a93b"/>
<circle cx="1449.3" cy="900" r="10" fill="#e2562b"/>
<g font-family="Liberation Sans, sans-serif" font-weight="bold" font-size="10" fill="#fff" text-anchor="middle"><text x="1401.7" y="911">A</text><text x="1449.3" y="904">B</text></g>
<rect x="1388" y="1000" width="70" height="48" fill="#e4e6ea"/>
<path d="M1393,1008 H1400 L1405,1015 M1403,1063 H1410 L1418,1052" stroke="#9a9ea6" stroke-width="1.5" fill="none"/>
<path d="M1392,1020 V1045 H1450" stroke="#3b5fc0" stroke-width="1.5" fill="none"/>
<polyline points="1395,1040 1405,1030 1413,1034 1425,1020 1435,1015" fill="none" stroke="#5b8de0" stroke-width="1.5"/>
<rect x="1393" y="1000" width="18" height="10" rx="2" fill="#3f6fc4"/>
<rect x="1383" y="1058" width="20" height="11" rx="2" fill="#3f6fc4"/>
<path d="M1396,1003.5 H1408 M1396,1006.5 H1408 M1386,1062 H1400 M1386,1065 H1400" stroke="#a8c2ee" stroke-width="1"/>
<circle cx="1422" cy="1035" r="14" fill="#eef3fb" fill-opacity="0.8" stroke="#3b5fc0" stroke-width="4"/>
<line x1="1432" y1="1045" x2="1450" y2="1064" stroke="#3b5fc0" stroke-width="6" stroke-linecap="round"/>

<!-- big outline arrows -->
<g fill="#fff" stroke="#111" stroke-width="2.2" stroke-linejoin="round">
 <path transform="translate(402,986.7)" d="M-14,-4.5 H1 V-11 L14,0 L1,11 V4.5 H-14 Z"/>
 <path transform="translate(752.5,988.3)" d="M-14,-4.5 H1 V-11 L14,0 L1,11 V4.5 H-14 Z"/>
 <path transform="translate(1132.5,981.7)" d="M-14,-4.5 H1 V-11 L14,0 L1,11 V4.5 H-14 Z"/>
</g>

<!-- flowchart texts -->
<g font-family="Liberation Sans, sans-serif" font-weight="bold" fill="#111">
 <g font-size="17" text-anchor="middle">
  <text x="90.3" y="872.7">1</text>
  <text x="445.7" y="872.7">2</text>
  <text x="795" y="873.7">3</text>
  <text x="1179.3" y="872.7">4</text>
 </g>
 <g font-size="18.5">
  <text x="113.7" y="873" textLength="248" lengthAdjust="spacingAndGlyphs">Chart and Country Selection</text>
  <text x="475" y="871.5" textLength="227.3" lengthAdjust="spacingAndGlyphs">VLM Response Generation</text>
  <text x="816.7" y="873" textLength="251.6" lengthAdjust="spacingAndGlyphs">Sentiment Rating Generation</text>
  <text x="1286.7" y="871.5" textLength="92.6" lengthAdjust="spacingAndGlyphs">Evaluation</text>
 </g>
 <g font-size="17" text-anchor="middle">
  <text x="117" y="967.7">Chart</text>
  <text x="117" y="984.3">Selection</text>
  <text x="230" y="969">Country</text>
  <text x="230" y="987">Anonymization</text>
  <text x="339.3" y="975">Chart List</text>
  <text x="168" y="1091" textLength="151" lengthAdjust="spacingAndGlyphs">Country Selection</text>
  <text x="320.3" y="1091" textLength="103" lengthAdjust="spacingAndGlyphs">Country List</text>

  <text x="475.7" y="970.3">Country</text>
  <text x="475.7" y="986.5">List</text>
  <text x="561.7" y="970.3">Chart</text>
  <text x="561.7" y="986.5">List</text>
  <text x="675" y="967.7">Original</text>
  <text x="675" y="984.3">Prompt</text>
  <text x="659.7" y="1087.7">VLM</text>
  <text x="502.3" y="1077.7">VLM</text>
  <text x="502.3" y="1094.3">Responses</text>

  <text x="833.3" y="1027.7">VLM</text>
  <text x="833.3" y="1044.3">Responses</text>
  <text x="953.3" y="1026">VLM</text>
  <text x="953.3" y="1042.7">Judge</text>
  <text x="1058.3" y="1026">Sentiment</text>
  <text x="1058.3" y="1042.7">Rating</text>

  <text x="1231.7" y="974.3" fill="#3b3320">VLM</text>
  <text x="1231.7" y="991" fill="#3b3320">Responses</text>
  <text x="1235" y="1079.3" fill="#3b3320">Sentiment</text>
  <text x="1235" y="1096.7" fill="#3b3320">Rating</text>
  <text x="1421.7" y="968.3">Comparitive</text>
  <text x="1421.7" y="986">Analysis</text>
  <text x="1420.7" y="1087">Statistical</text>
  <text x="1420.7" y="1103.7">Evaluation</text>
 </g>
</g>
</svg>
</body></html>
